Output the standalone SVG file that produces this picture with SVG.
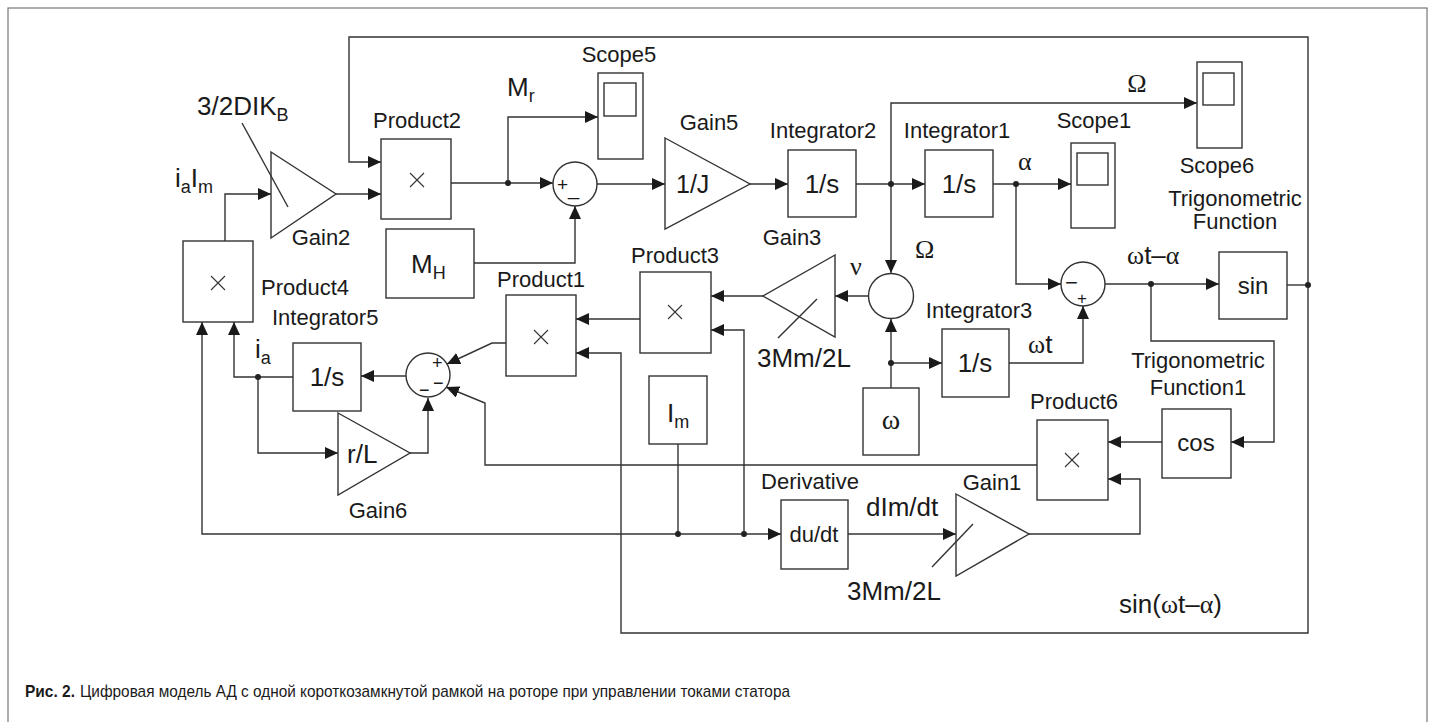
<svg xmlns="http://www.w3.org/2000/svg" width="1435" height="722" viewBox="0 0 1435 722">
<style>
.b{fill:#fff;stroke:#333;stroke-width:1.4}
.n{fill:none;stroke:#333;stroke-width:1.4}
.c{fill:none;stroke:#333;stroke-width:1.4;marker-end:url(#a)}
.x{fill:none;stroke:#333;stroke-width:1.1}
.t{font-family:"Liberation Sans",Arial,sans-serif;font-size:22px;fill:#1a1a1a}
.m{text-anchor:middle}
.L{font-size:26px}
.g{font-family:"Liberation Serif","Times New Roman",serif}
.s{font-size:18px}
.sg{font-size:18px}
.d{fill:#222}
.cap{font-family:"Liberation Sans Narrow","Liberation Sans",Arial,sans-serif;font-size:17px;fill:#1a1a1a}
</style>
<defs>
<marker id="a" markerUnits="userSpaceOnUse" markerWidth="14" markerHeight="12" refX="13" refY="6" orient="auto"><path d="M0,0 L13,6 L0,12 z" fill="#1a1a1a"/></marker>
</defs>
<rect width="1435" height="722" fill="#fff"/>
<rect x="8" y="8" width="1419" height="730" fill="none" stroke="#777" stroke-width="1.2"/>

<g id="connectors">
<path class="c" d="M225,241 V194 H271"/>
<path class="c" d="M336,194 H381"/>
<path class="c" d="M1308,285 V37 H349 V162 H381"/>
<path class="c" d="M451,183 H553"/>
<path class="c" d="M508,183 V117 H598"/>
<path class="c" d="M474,263 H575 V206"/>
<path class="c" d="M597,184 H665"/>
<path class="c" d="M750,184 H788"/>
<path class="c" d="M856,184 H925"/>
<path class="c" d="M891,184 V103 H1197"/>
<path class="c" d="M891,184 V273"/>
<path class="c" d="M993,184 H1071"/>
<path class="c" d="M1016,184 V284 H1061"/>
<path class="c" d="M1105,284 H1219"/>
<path class="n" d="M1287,285 H1308"/>
<path class="c" d="M1151,284 V341 H1274 V442 H1231"/>
<path class="c" d="M1162,442 H1108"/>
<path class="c" d="M1037,465 H485 V403 L446,387"/>
<path class="c" d="M1029,534 H1140 V479 H1108"/>
<path class="c" d="M848,534 H956"/>
<path class="n" d="M678,444 V534"/>
<path class="c" d="M678,534 H202 V322"/>
<path class="c" d="M678,534 H781"/>
<path class="c" d="M744,534 V330 H711"/>
<path class="c" d="M1308,285 V633 H621 V353 H576"/>
<path class="c" d="M763,296 H711"/>
<path class="c" d="M868,296 H835"/>
<path class="c" d="M891,388 V319"/>
<path class="c" d="M891,363 H942"/>
<path class="c" d="M1009,363 H1083 V306"/>
<path class="c" d="M640,319 H576"/>
<path class="c" d="M506,343 H492 L447,364"/>
<path class="c" d="M406,376 H361"/>
<path class="c" d="M293,377 H234 V322"/>
<path class="c" d="M258,377 V453 H338"/>
<path class="c" d="M410,453 H428 V398"/>
<circle class="d" cx="508" cy="183" r="3"/>
<circle class="d" cx="891" cy="184" r="3"/>
<circle class="d" cx="1016" cy="184" r="3"/>
<circle class="d" cx="1151" cy="284" r="3"/>
<circle class="d" cx="1308" cy="285" r="3"/>
<circle class="d" cx="891" cy="363" r="3"/>
<circle class="d" cx="678" cy="534" r="3"/>
<circle class="d" cx="744" cy="534" r="3"/>
<circle class="d" cx="258" cy="377" r="3"/>
</g>

<g id="Product4"><rect class="b" x="183" y="241" width="70" height="81"/><path class="x" d="M211,276 l14,14 M225,276 l-14,14"/>
<text class="t" x="261" y="295">Product4</text></g>
<g id="Gain2"><path class="b" d="M271,152 L336,194 L271,238 z"/><path class="n" d="M242,123 L288,207"/>
<text class="t m" x="321" y="245">Gain2</text>
<text class="t L" x="197" y="115">3/2DIK<tspan class="s" dy="6">B</tspan></text>
<text class="t L" x="175" y="187">i<tspan class="s" dy="6">a</tspan><tspan dy="-6">I</tspan><tspan class="s" dy="6">m</tspan></text></g>
<g id="Product2"><rect class="b" x="381" y="139" width="70" height="80"/><path class="x" d="M410,173 l14,14 M424,173 l-14,14"/>
<text class="t m" x="417" y="128">Product2</text></g>
<g id="MH"><rect class="b" x="386" y="229" width="88" height="69"/>
<text class="t L" x="411" y="273">M<tspan class="s" dy="6">H</tspan></text></g>
<g id="Sum1"><circle class="b" cx="575" cy="184" r="22"/>
<text class="t" x="557" y="191" style="font-size:19px">+</text><text class="t" x="568" y="195" style="font-size:20px">_</text>
<text class="t L" x="507" y="96">M<tspan class="s" dy="6">r</tspan></text></g>
<g id="Scope5"><rect class="b" x="598" y="73" width="45" height="86"/><rect class="b" x="604" y="83" width="32" height="33"/>
<text class="t m" x="619" y="62">Scope5</text></g>
<g id="Gain5"><path class="b" d="M665,138 L750,184 L665,229 z"/>
<text class="t" x="676" y="193" style="font-size:25px">1/J</text>
<text class="t m" x="709" y="130">Gain5</text></g>
<g id="Integrator2"><rect class="b" x="788" y="150" width="68" height="67"/>
<text class="t m L" x="822" y="193">1/s</text>
<text class="t m" x="823" y="138">Integrator2</text></g>
<g id="Integrator1"><rect class="b" x="925" y="150" width="68" height="67"/>
<text class="t m L" x="959" y="193">1/s</text>
<text class="t m" x="957" y="138">Integrator1</text>
<text class="t g L" x="1018" y="170">α</text></g>
<g id="Scope1"><rect class="b" x="1071" y="143" width="44" height="85"/><rect class="b" x="1077" y="153" width="31" height="32"/>
<text class="t m" x="1094" y="128">Scope1</text></g>
<g id="Scope6"><rect class="b" x="1197" y="62" width="45" height="86"/><rect class="b" x="1203" y="73" width="31" height="32"/>
<text class="t m" x="1217" y="173">Scope6</text>
<text class="t g L m" x="1137" y="92">Ω</text></g>
<g id="TrigFunction"><rect class="b" x="1219" y="252" width="68" height="67"/>
<text class="t m" x="1253" y="294" style="font-size:24px">sin</text>
<text class="t m" x="1235" y="206">Trigonometric</text>
<text class="t m" x="1235" y="229">Function</text></g>
<g id="Sum3"><circle class="b" cx="1083" cy="284" r="22"/>
<text class="t" x="1065" y="290" style="font-size:22px">−</text><text class="t" x="1077" y="304" style="font-size:17px">+</text>
<text class="t L" x="1127" y="264"><tspan class="g">ω</tspan>t–<tspan class="g">α</tspan></text></g>
<g id="TrigFunction1"><rect class="b" x="1162" y="409" width="69" height="69"/>
<text class="t m" x="1196" y="451" style="font-size:24px">cos</text>
<text class="t m" x="1198" y="368">Trigonometric</text>
<text class="t m" x="1198" y="395">Function1</text></g>
<g id="Product6"><rect class="b" x="1037" y="420" width="71" height="80"/><path class="x" d="M1065,453 l14,14 M1079,453 l-14,14"/>
<text class="t m" x="1074" y="409">Product6</text>
<text class="t L" x="1119" y="613">sin(<tspan class="g">ω</tspan>t–<tspan class="g">α</tspan>)</text></g>
<g id="Gain1"><path class="b" d="M956,494 L1029,534 L956,576 z"/><path class="n" d="M932,567 L973,524"/>
<text class="t m" x="992" y="490">Gain1</text>
<text class="t L" x="866" y="516">dIm/dt</text>
<text class="t L" x="847" y="600">3Mm/2L</text></g>
<g id="Derivative"><rect class="b" x="781" y="500" width="67" height="69"/>
<text class="t m" x="814" y="542">du/dt</text>
<text class="t m" x="810" y="489">Derivative</text></g>
<g id="SumOmega"><circle class="b" cx="891" cy="296" r="22.5"/>
<text class="t g L" x="915" y="258">Ω</text>
<text class="t g L" x="850" y="275">ν</text></g>
<g id="omega"><rect class="b" x="863" y="388" width="56" height="67"/>
<text class="t g m" x="891" y="429" style="font-size:28px">ω</text></g>
<g id="Integrator3"><rect class="b" x="942" y="329" width="67" height="68"/>
<text class="t m L" x="975" y="372">1/s</text>
<text class="t m" x="979" y="318">Integrator3</text>
<text class="t L" x="1028" y="353"><tspan class="g">ω</tspan>t</text></g>
<g id="Gain3"><path class="b" d="M835,255 L763,296 L835,337 z"/><path class="n" d="M778,338 L817,299"/>
<text class="t m" x="792" y="245">Gain3</text>
<text class="t L" x="757" y="367">3Mm/2L</text></g>
<g id="Product3"><rect class="b" x="640" y="272" width="71" height="81"/><path class="x" d="M668,305 l14,14 M682,305 l-14,14"/>
<text class="t m" x="675" y="263">Product3</text></g>
<g id="Product1"><rect class="b" x="506" y="295" width="70" height="81"/><path class="x" d="M534,330 l14,14 M548,330 l-14,14"/>
<text class="t m" x="541" y="287">Product1</text></g>
<g id="Im"><rect class="b" x="649" y="376" width="58" height="68"/>
<text class="t L" x="667" y="422">I<tspan class="s" dy="6">m</tspan></text></g>
<g id="Sum4"><circle class="b" cx="428" cy="375" r="22"/>
<text class="t sg" x="432" y="369">+</text><text class="t sg" x="433" y="389">−</text><text class="t sg" x="419" y="396">−</text></g>
<g id="Integrator5"><rect class="b" x="293" y="343" width="68" height="68"/>
<text class="t m L" x="327" y="386">1/s</text>
<text class="t" x="272" y="325">Integrator5</text>
<text class="t L" x="255" y="358">i<tspan class="s" dy="6">a</tspan></text></g>
<g id="Gain6"><path class="b" d="M338,413 L410,453 L338,495 z"/>
<text class="t L" x="347" y="463">r/L</text>
<text class="t m" x="378" y="518">Gain6</text></g>

<text class="cap" x="25" y="697" font-weight="bold" textLength="50" lengthAdjust="spacingAndGlyphs">Рис. 2.</text>
<text class="cap" x="80" y="697" textLength="710" lengthAdjust="spacingAndGlyphs">Цифровая модель АД с одной короткозамкнутой рамкой на роторе при управлении токами статора</text>
</svg>
